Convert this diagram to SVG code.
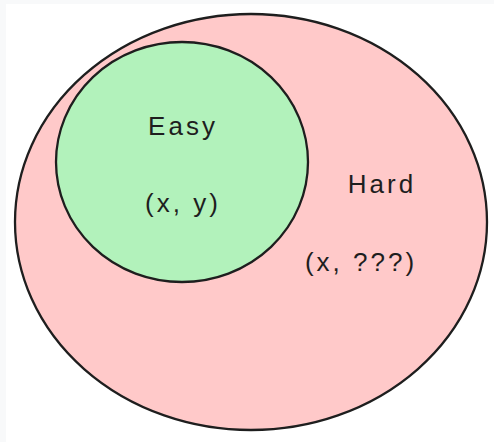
<svg xmlns="http://www.w3.org/2000/svg" width="494" height="442" viewBox="0 0 494 442">
<style>
.shape{stroke:#1e1e1e;stroke-width:2.3;stroke-linecap:round}
.lbl{font-family:"Liberation Sans",Arial,sans-serif;font-size:26px;letter-spacing:3px;fill:#1e1e1e;text-anchor:middle;dominant-baseline:central}
</style>
<rect x="0" y="0" width="494" height="442" fill="#f8f9fa"/>
<rect x="6" y="4" width="488" height="438" fill="#ffffff"/>
<g id="hard">
<ellipse class="shape" cx="251" cy="222" rx="236" ry="208" fill="#ffc9c9"/>
<text class="lbl" x="382" y="184">Hard</text>
<text class="lbl" x="361" y="262">(x, ???)</text>
</g>
<g id="easy">
<ellipse class="shape" cx="182" cy="162" rx="126" ry="120" fill="#b2f2bb"/>
<text class="lbl" x="183" y="126">Easy</text>
<text class="lbl" x="183" y="203">(x, y)</text>
</g>
<g id="connectors"></g>
</svg>
